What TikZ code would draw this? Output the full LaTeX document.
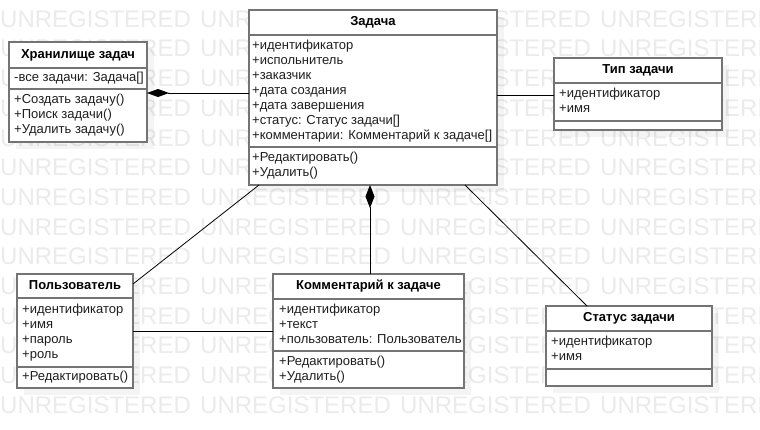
\documentclass[tikz,border=0pt]{standalone}
\usepackage{fontspec}
\setmainfont{Liberation Sans}
\usetikzlibrary{arrows.meta,calc}
\definecolor{boxgray}{HTML}{747474}
\definecolor{wmgray}{HTML}{EBEBEB}
\definecolor{txt}{HTML}{1E1E1E}
\tikzset{
  classframe/.style={draw=boxgray, line width=1.6pt, fill=white, inner sep=0pt, outer sep=0pt, anchor=north west},
  divider/.style={draw=boxgray, line width=1.6pt},
  shadowbox/.style={fill=black, opacity=0.045},
  attr/.style={anchor=west, inner sep=0pt, text=txt, font=\fontsize{13}{15}\selectfont, text height=9.4pt, text depth=2.7pt},
  hdr/.style={anchor=center, inner sep=0pt, text=black, font=\fontsize{13}{15}\selectfont\bfseries, text height=9.4pt, text depth=2.7pt},
  wm/.style={anchor=west, inner sep=0pt, text=wmgray, font=\fontsize{24}{24}\selectfont},
  conn/.style={draw=black, line width=0.8pt},
  compo/.style={{Diamond[length=22pt,width=8pt,fill=black]}-},
}
\newcommand\classbox[5]{% name, x1, y1, x2, y2
  \fill[shadowbox] (#2+7,#3+7) rectangle (#4+7,#5+7);
  \node[classframe, minimum width={(#4-#2)*1pt}, minimum height={(#5-#3)*1pt}] (#1) at (#2,#3) {};
}
\begin{document}
\begin{tikzpicture}[x=1pt,y=-1pt]
\useasboundingbox (0,0) rectangle (760,429);
\fill[white] (0,0) rectangle (760,429);
% watermark
\begin{scope}
\clip (0,0) rectangle (760,429);
\foreach \k in {0,...,13}{
  \foreach \j in {0,...,3}{
    \node[wm] (wm-\j-\k) at (200*\j, 19+29.7*\k) {UNREGISTERED};
  }
}
\end{scope}

% ---- Хранилище задач
\classbox{store}{9}{42}{147}{142}
\draw[divider] (9,68) -- (147,68);
\draw[divider] (9,89) -- (147,89);
\node[hdr] (store-h) at (78,55) {Хранилище задач};
\node[attr] (store-a1) at (14,78) {-все задачи: Задача[]};
\node[attr] (store-m1) at (14,100) {+Создать задачу()};
\node[attr] (store-m2) at (14,115) {+Поиск задачи()};
\node[attr] (store-m3) at (14,130) {+Удалить задачу()};

% ---- Задача
\classbox{task}{249}{10}{497}{185}
\draw[divider] (249,35) -- (497,35);
\draw[divider] (249,147) -- (497,147);
\node[hdr] (task-h) at (373,22) {Задача};
\node[attr] (task-a1) at (252,46) {+идентификатор};
\node[attr] (task-a2) at (252,61) {+испольнитель};
\node[attr] (task-a3) at (252,76) {+заказчик};
\node[attr] (task-a4) at (252,91) {+дата создания};
\node[attr] (task-a5) at (252,106) {+дата завершения};
\node[attr] (task-a6) at (252,121) {+статус: Статус задачи[]};
\node[attr] (task-a7) at (252,136) {+комментарии: Комментарий к задаче[]};
\node[attr] (task-m1) at (252,158) {+Редактировать()};
\node[attr] (task-m2) at (252,173) {+Удалить()};

% ---- Тип задачи
\classbox{type}{554}{58}{722}{130}
\draw[divider] (554,83) -- (722,83);
\draw[divider] (554,121) -- (722,121);
\node[hdr] (type-h) at (638,70) {Тип задачи};
\node[attr] (type-a1) at (559,94) {+идентификатор};
\node[attr] (type-a2) at (559,109) {+имя};

% ---- Пользователь
\classbox{user}{17}{274}{133}{388}
\draw[divider] (17,298) -- (133,298);
\draw[divider] (17,367) -- (133,367);
\node[hdr] (user-h) at (75,286) {Пользователь};
\node[attr] (user-a1) at (22,310) {+идентификатор};
\node[attr] (user-a2) at (22,325) {+имя};
\node[attr] (user-a3) at (22,340) {+пароль};
\node[attr] (user-a4) at (22,355) {+роль};
\node[attr] (user-m1) at (22,377) {+Редактировать()};

% ---- Комментарий к задаче
\classbox{comm}{273}{274}{464}{388}
\draw[divider] (273,299) -- (464,299);
\draw[divider] (273,351) -- (464,351);
\node[hdr] (comm-h) at (368.5,286) {Комментарий к задаче};
\node[attr] (comm-a1) at (279,310) {+идентификатор};
\node[attr] (comm-a2) at (279,325) {+текст};
\node[attr] (comm-a3) at (279,340) {+пользователь: Пользователь};
\node[attr] (comm-m1) at (279,362) {+Редактировать()};
\node[attr] (comm-m2) at (279,377) {+Удалить()};

% ---- Статус задачи
\classbox{status}{546}{306}{712}{386}
\draw[divider] (546,331) -- (712,331);
\draw[divider] (546,369) -- (712,369);
\node[hdr] (status-h) at (629,318) {Статус задачи};
\node[attr] (status-a1) at (551,342) {+идентификатор};
\node[attr] (status-a2) at (551,357) {+имя};

% ---- connectors
\draw[conn,compo] ($(store.north east)+(0,51)$) -- ($(task.north west)+(0,83)$);
\draw[conn] ($(task.north east)+(0,85)$) -- ($(type.north west)+(0,37)$);
\draw[conn] ($(task.south west)+(10,0)$) -- ($(user.north east)+(0,10)$);
\draw[conn,{Diamond[length=23pt,width=9pt,fill=black]}-] ($(task.south west)+(121,0)$) -- ($(comm.north west)+(97,0)$);
\draw[conn] ($(task.south west)+(216,0)$) -- ($(status.north west)+(41,0)$);
\draw[conn] ($(user.north east)+(0,57)$) -- ($(comm.north west)+(0,57)$);
\end{tikzpicture}
\end{document}
